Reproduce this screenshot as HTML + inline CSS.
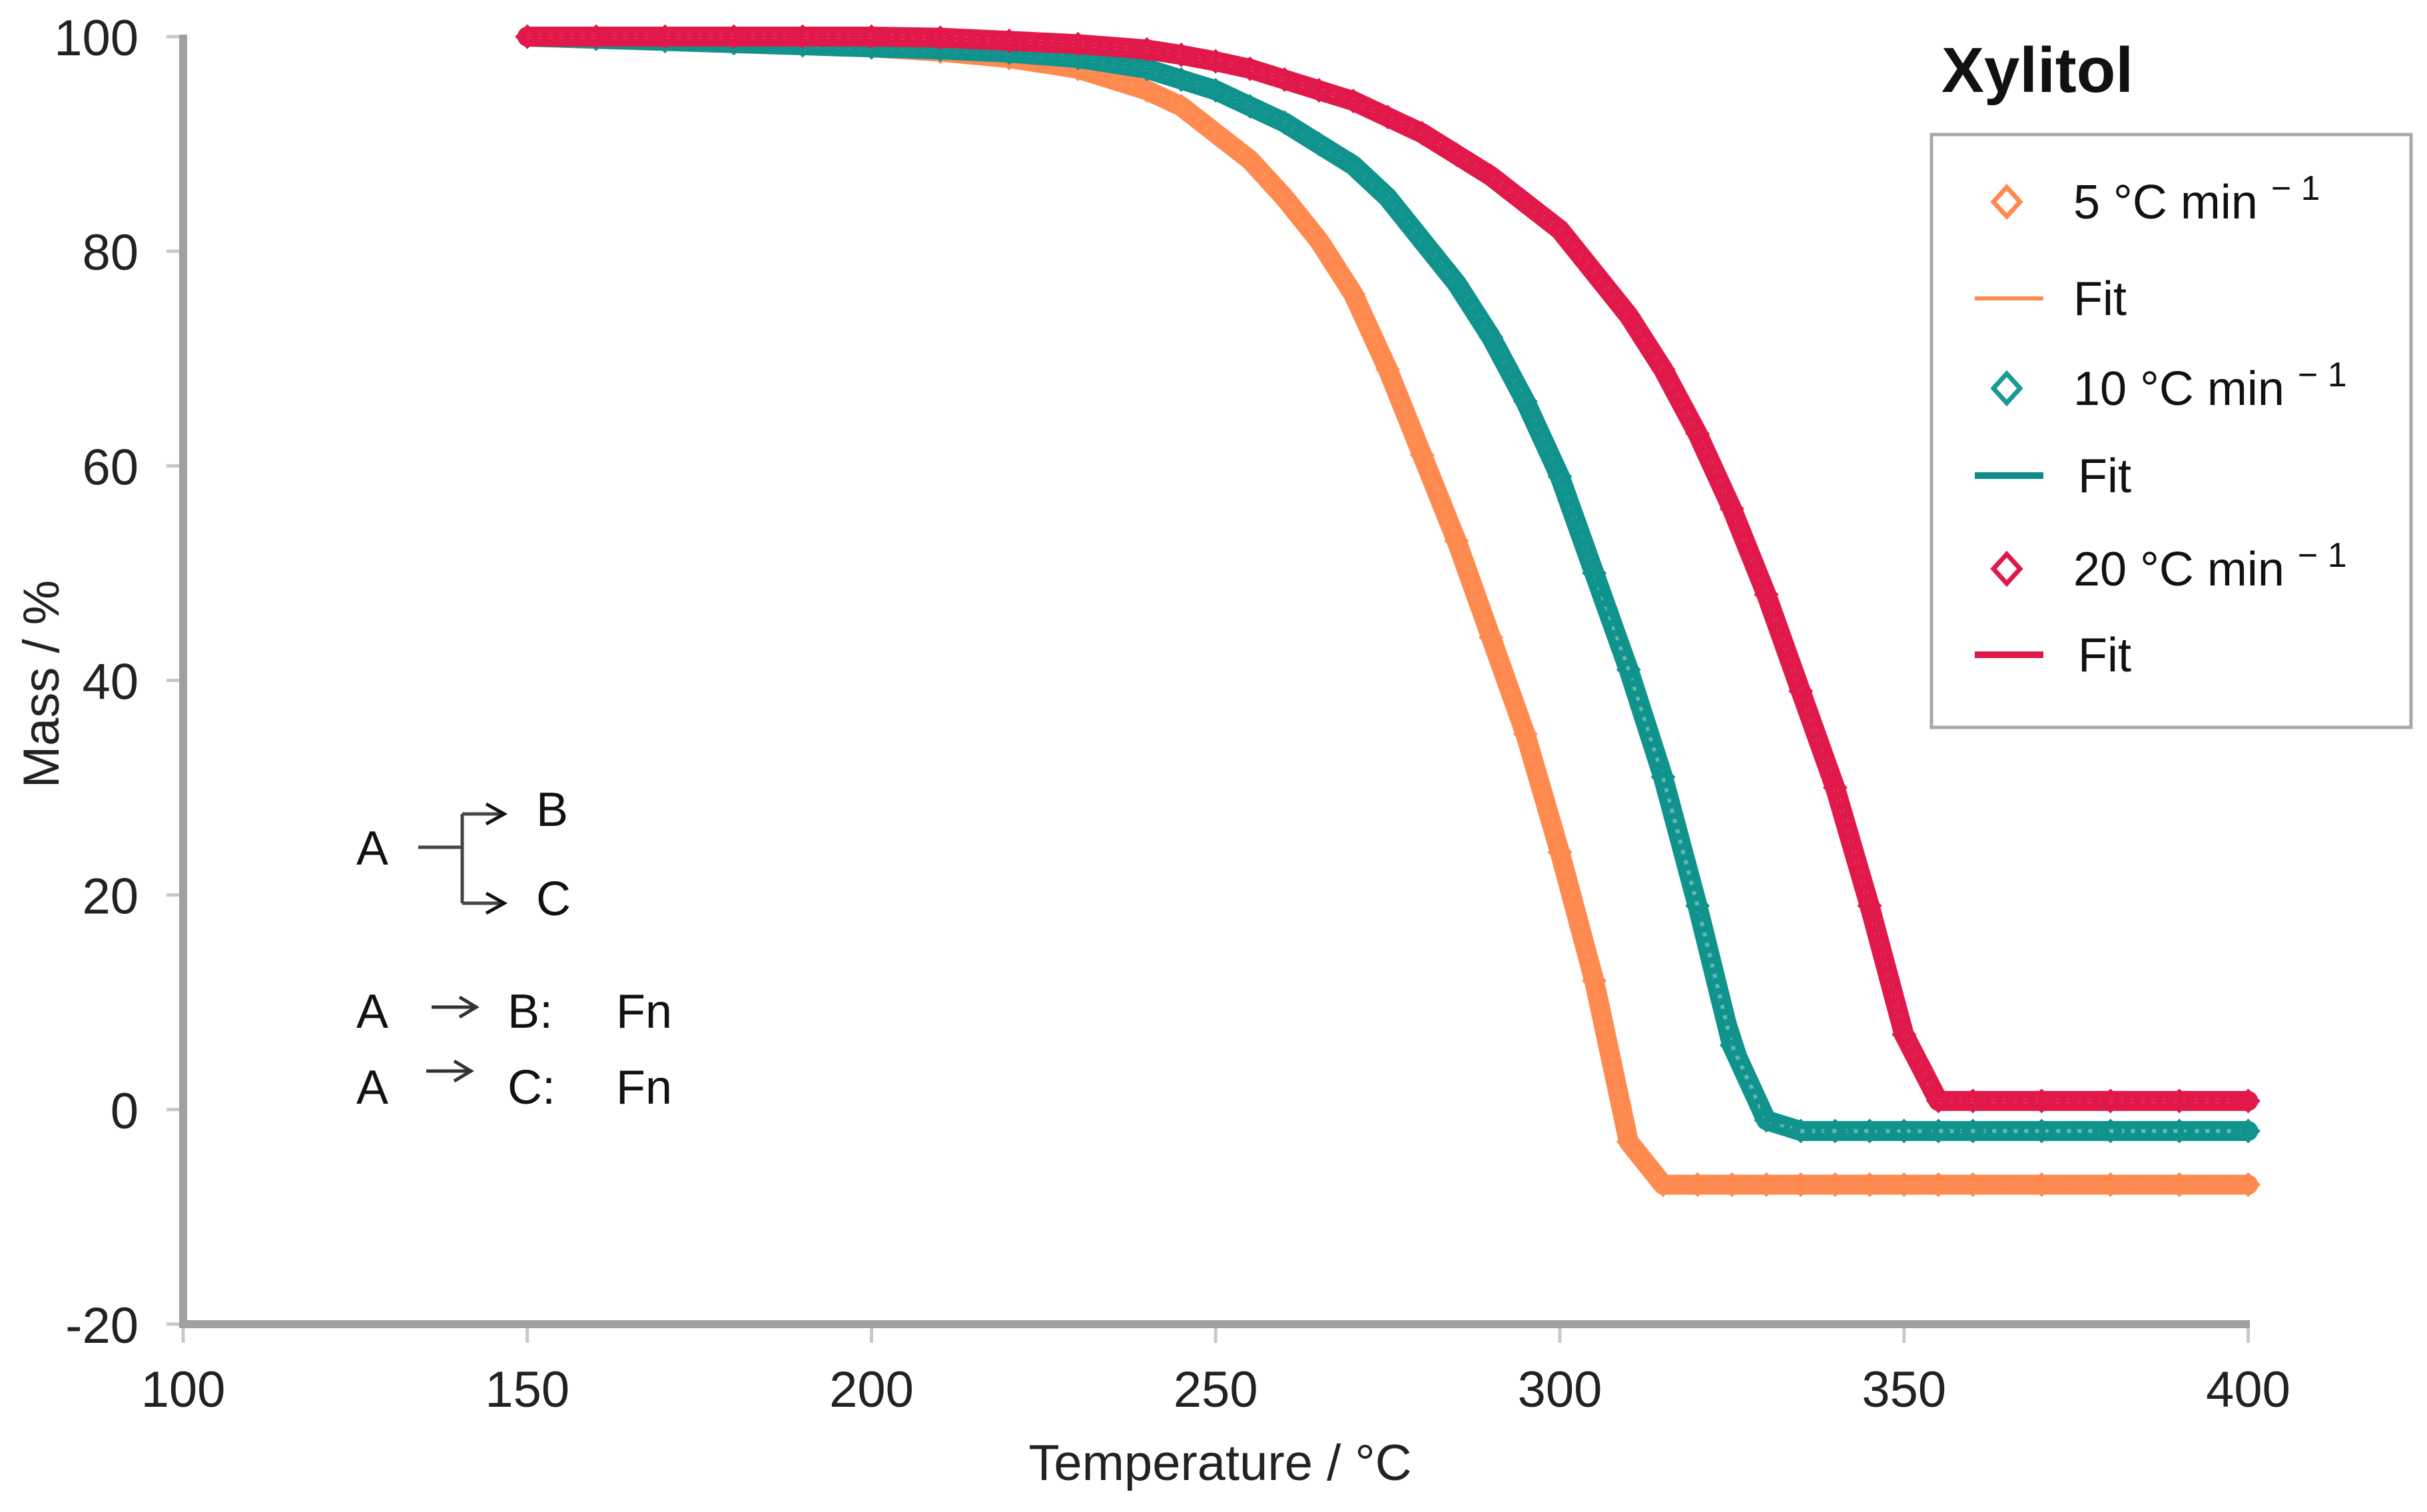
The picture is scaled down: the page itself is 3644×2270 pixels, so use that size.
<!DOCTYPE html>
<html><head><meta charset="utf-8"><style>
html,body{margin:0;padding:0;background:#fff;}
svg{display:block;font-family:"Liberation Sans","DejaVu Sans",sans-serif;}
</style></head><body>
<svg id="chart" width="3644" height="2270" viewBox="0 0 3644 2270" xmlns="http://www.w3.org/2000/svg">
<rect x="0" y="0" width="3644" height="2270" fill="#fff"/>
<g id="plot"></g>
<g id="axes"></g>
<text x="1832" y="2222" font-size="76" text-anchor="middle" fill="#222">Temperature / °C</text>
<text x="88" y="1027" font-size="76" text-anchor="middle" fill="#222" transform="rotate(-90 88 1027)">Mass / %</text>
<g font-size="72" fill="#111">
  <text x="535" y="1298">A</text>
  <text x="805" y="1240">B</text>
  <text x="805" y="1374">C</text>
  <path d="M628 1272 H694 M694 1222 V1356 M694 1222 H752 M694 1356 H752" stroke="#444" stroke-width="5" fill="none"/>
  <path d="M730 1207 L757 1222 L730 1237 M730 1341 L757 1356 L730 1371" stroke="#111" stroke-width="5" fill="none"/>
  <text x="535" y="1543">A</text>
  <path d="M648 1512 H712 M690 1497 L715 1512 L690 1527" stroke="#333" stroke-width="5" fill="none"/>
  <text x="762" y="1543">B:</text>
  <text x="925" y="1543">Fn</text>
  <text x="535" y="1657">A</text>
  <path d="M640 1608 H704 M682 1593 L707 1608 L682 1623" stroke="#333" stroke-width="5" fill="none"/>
  <text x="762" y="1657">C:</text>
  <text x="925" y="1657">Fn</text>
</g>
<text x="2915" y="138" font-size="96" font-weight="bold" fill="#111">Xylitol</text>
<g>
  <rect x="2900" y="202" width="720" height="890" fill="#fff" stroke="#a8a8a8" stroke-width="5"/>
  <g><path d="M3013 281 L3033 303 L3013 325 L2993 303 Z" fill="none" stroke="#ff8a50" stroke-width="7"/><text x="3113" y="328" font-size="72" fill="#111">5 °C min <tspan dy="-28" font-size="52">− 1</tspan></text></g>
  <g><line x1="2965" y1="448" x2="3068" y2="448" stroke="#ff8a50" stroke-width="6"/><text x="3113" y="473" font-size="72" fill="#111">Fit</text></g>
  <g><path d="M3013 561 L3033 583 L3013 605 L2993 583 Z" fill="none" stroke="#1a9a94" stroke-width="7"/><text x="3113" y="608" font-size="72" fill="#111">10 °C min <tspan dy="-28" font-size="52">− 1</tspan></text></g>
  <g><line x1="2965" y1="714" x2="3068" y2="714" stroke="#0f8c86" stroke-width="10"/><text x="3120" y="739" font-size="72" fill="#111">Fit</text></g>
  <g><path d="M3013 832 L3033 854 L3013 876 L2993 854 Z" fill="none" stroke="#e0194a" stroke-width="7"/><text x="3113" y="879" font-size="72" fill="#111">20 °C min <tspan dy="-28" font-size="52">− 1</tspan></text></g>
  <g><line x1="2965" y1="983" x2="3068" y2="983" stroke="#e0194a" stroke-width="10"/><text x="3120" y="1008" font-size="72" fill="#111">Fit</text></g>
</g>
</svg>
<script>
const temps = [150,160,170,180,190,200,210,220,230,240,245,250,255,260,265,270,275,280,285,290,295,300,305,310,315,320,325,330,335,340,345,350,355,360,370,380,390,400];
const mass5 = [100,99.8,99.6,99.4,99.2,99,98.6,98,97,95,93.5,91,88.5,85,81,76,69,61,53,44,35,24,12,-3,-7,-7,-7,-7,-7,-7,-7,-7,-7,-7,-7,-7,-7,-7];
const fit5  = [100,99.8,99.6,99.4,99.2,99,98.6,98,97,95,93.5,91,88.5,85,81,76,69,61,53,44,35,24,12,-3,-7,-7,-7,-7,-7,-7,-7,-7,-7,-7,-7,-7,-7,-7];
const mass10 = [100,99.8,99.6,99.4,99.2,99,98.8,98.5,98,97,96,95,93.5,92,90,88,85,81,77,72,66,59,50,41,31,19,6,-1,-2,-2,-2,-2,-2,-2,-2,-2,-2,-2];
const fit10  = [100,99.8,99.6,99.4,99.2,99,98.8,98.5,98,97,96,95,93.5,92,90,88,85,81,77,72,66,59,50,42,32,21,9,-1,-1.5,-1.5,-1.5,-1.5,-1.5,-1.5,-1.5,-1.5,-1.5,-1.5];
const mass20 = [100,100,100,100,100,100,99.9,99.6,99.3,98.8,98.3,97.7,97,96,95,94,92.5,91,89,87,84.5,82,78,74,69,63,56,48,39,30,19,7,0.8,0.8,0.8,0.8,0.8,0.8];
const fit20  = [100,100,100,100,100,100,99.9,99.6,99.3,98.8,98.3,97.7,97,96,95,94,92.5,91,89,87,84.5,82,78,74,69,63,56,48,39,30,19,7,0.8,0.8,0.8,0.8,0.8,0.8];
const xTicks = [100,150,200,250,300,350,400];
const yTicks = [-20,0,20,40,60,80,100];

const NS = "http://www.w3.org/2000/svg";
function xs(t){ return 275 + (t-100)*10.335; }
function ys(m){ return 55 + (100-m)*16.108; }
const plot = document.getElementById('plot');
const axes = document.getElementById('axes');

function mk(tag, attrs, parent){ const e=document.createElementNS(NS,tag); for(const k in attrs) e.setAttribute(k,attrs[k]); parent.appendChild(e); return e; }

function series(vals, fit, color, name){
  const d = temps.map((t,i)=>(i?'L':'M')+xs(t).toFixed(1)+' '+ys(vals[i]).toFixed(1)).join(' ');
  const band = mk('path',{d:d,fill:'none',stroke:color,'stroke-width':30,'stroke-linejoin':'round','stroke-linecap':'round'},plot);
  
  
  const inner = mk('path',{d:d,fill:'none',stroke:'#fff','stroke-width':6,'stroke-opacity':0.35,'stroke-dasharray':'6 10'},plot);
  
  
  temps.forEach((t,i)=>{
    const cx=xs(t), cy=ys(vals[i]);
    const p = mk('path',{d:`M${cx} ${cy-15} L${cx+15} ${cy} L${cx} ${cy+15} L${cx-15} ${cy} Z`,fill:'none',stroke:color,'stroke-width':5},plot);
    
    
  });
  const fd = temps.map((t,i)=>(i?'L':'M')+xs(t).toFixed(1)+' '+ys(fit[i]).toFixed(1)).join(' ');
  const f = mk('path',{d:fd,fill:'none',stroke:color,'stroke-width':5},plot);
  
  
}
series(mass5, fit5, '#ff8a50', 'series-5');
series(mass10, fit10, '#10938d', 'series-10');
series(mass20, fit20, '#e0194a', 'series-20');

const ya = mk('line',{x1:275,y1:52,x2:275,y2:1994,stroke:'#a0a0a0','stroke-width':12},axes);


const xa = mk('line',{x1:269,y1:1988,x2:3378,y2:1988,stroke:'#a0a0a0','stroke-width':12},axes);


xTicks.forEach(t=>{
  mk('line',{x1:xs(t),y1:1994,x2:xs(t),y2:2016,stroke:'#c8c8c8','stroke-width':5},axes);
  const l = mk('text',{x:xs(t),y:2112,'font-size':76,'text-anchor':'middle',fill:'#222'},axes);
  l.textContent = t;
  
  
});
yTicks.forEach(v=>{
  mk('line',{x1:250,y1:ys(v),x2:269,y2:ys(v),stroke:'#c8c8c8','stroke-width':5},axes);
  const l = mk('text',{x:208,y:ys(v)+28,'font-size':76,'text-anchor':'end',fill:'#222'},axes);
  l.textContent = v;
  
  
});
</script>
</body></html>
